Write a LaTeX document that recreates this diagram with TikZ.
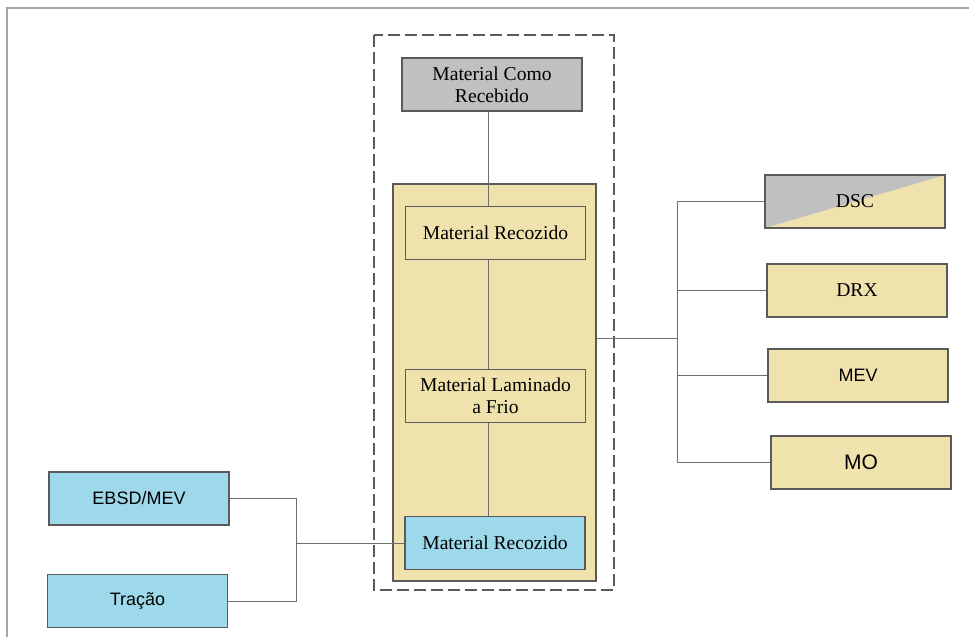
\documentclass[tikz,border=0pt]{standalone}
\usepackage{fontspec}
\setmainfont{Liberation Serif}
\setsansfont{Liberation Sans}
\definecolor{tan}{RGB}{239,226,173}
\definecolor{lblue}{RGB}{157,217,234}
\definecolor{cgray}{RGB}{192,192,192}
\definecolor{boxline}{RGB}{90,90,90}
\definecolor{linkgray}{RGB}{110,110,110}
\definecolor{framegray}{RGB}{165,165,165}

\begin{document}
\begin{tikzpicture}[x=0.5pt, y=-0.5pt,
  box/.style={draw=boxline, line width=0.6pt, minimum width=90pt,
    minimum height=26.5pt, inner sep=1pt, align=center,
    font=\fontsize{9.8}{11}\selectfont},
  tanbox/.style={box, fill=tan},
  bluebox/.style={box, fill=lblue},
  sansbox/.style={font=\sffamily\fontsize{9}{11}\selectfont},
  link/.style={draw=linkgray, line width=0.5pt}]
  \useasboundingbox (0,0) rectangle (969,637);
  % page frame, only top and left edges show
  \draw[framegray, line width=0.8pt] (7,637) -- (7,8) -- (969,8);
  % dashed group round the processing route
  \draw[boxline, line width=0.6pt, dash pattern=on 6pt off 2.5pt]
    (374,35) rectangle (614,590);
  \node[box, fill=cgray] (recebido) at (492,84.5) {Material Como\\Recebido};
  % tan stage holding the three treatments
  \node[draw=boxline, line width=0.6pt, fill=tan, minimum width=101.5pt,
    minimum height=198.5pt, inner sep=0pt] (stage) at (494.5,382.5) {};
  \node[tanbox] (recoz1) at (495.5,233) {Material Recozido};
  \node[tanbox] (laminado) at (495.5,396) {Material Laminado\\a Frio};
  \node[bluebox] (recoz2) at (495,543) {Material Recozido};
  % characterisation boxes, right side
  \node[tanbox, path picture={\fill[cgray]
      (path picture bounding box.south west) --
      (path picture bounding box.north west) --
      (path picture bounding box.north east) -- cycle;}]
    (dsc) at (855,201.5) {DSC};
  \node[tanbox] (drx) at (857,290.5) {DRX};
  \node[tanbox, sansbox] (mev) at (858,375.5) {MEV};
  \node[tanbox, sansbox, font=\sffamily\fontsize{10.5}{12}\selectfont]
    (mo) at (861,462.5) {MO};
  % mechanical / texture boxes, left side
  \node[bluebox, sansbox] (ebsd) at (139,498.5) {EBSD/MEV};
  \node[bluebox, sansbox] (tracao) at (137.5,601) {Tração};

  % vertical spine through the route
  \coordinate (spine) at (488,0);
  \draw[link] (recebido.south -| spine) -- (recoz1.north -| spine);
  \draw[link] (recoz1.south -| spine) -- (laminado.north -| spine);
  \draw[link] (laminado.south -| spine) -- (recoz2.north -| spine);
  % fan to the right
  \coordinate (fanR) at (677,338);
  \draw[link] (stage.east |- fanR) -- (fanR);
  \draw[link] (fanR |- dsc.west) -- (fanR |- mo.west);
  \foreach \n in {dsc,drx,mev,mo}
    \draw[link] (fanR |- \n.west) -- (\n.west);
  % fan to the left
  \coordinate (fanL) at (296,543);
  \draw[link] (ebsd.east) -- (ebsd.east -| fanL) -- (tracao.east -| fanL)
    -- (tracao.east);
  \draw[link] (fanL) -- (recoz2.west);
\end{tikzpicture}
\end{document}
